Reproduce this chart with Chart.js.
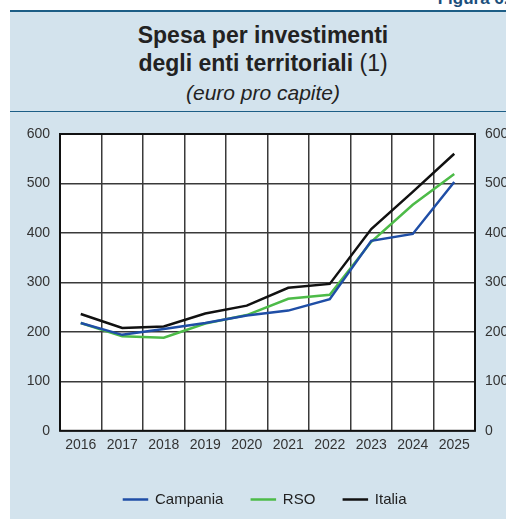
<!DOCTYPE html>
<html lang="it">
<head>
<meta charset="UTF-8">
<title>Spesa per investimenti degli enti territoriali</title>
<script src="https://cdn.jsdelivr.net/npm/chart.js"></script>
<style>
  html, body {
    margin: 0;
    padding: 0;
    width: 506px;
    height: 519px;
    overflow: hidden;
    background: #fff;
    font-family: "Liberation Sans", Arial, sans-serif;
  }
  .fig-label {
    position: absolute;
    right: -12px;
    top: -11px;
    font-weight: bold;
    font-size: 17px;
    color: #1b4f7c;
  }
  .panel {
    position: absolute;
    left: 10px;
    top: 10px;
    width: 510px;
    height: 520px;
    background: #d3e3ed;
    border-top: 2px solid #1d5e86;
  }
  .head {
    position: absolute;
    left: 0;
    top: 0;
    width: 506px;
    height: 99px;
    border-bottom: 1.5px solid #1d5e86;
    text-align: center;
    color: #222;
  }
  .head .t1 {
    position: absolute; left: 0; width: 100%; top: 10px;
    font-size: 23px; font-weight: bold;
  }
  .head .t2 {
    position: absolute; left: 0; width: 100%; top: 38px;
    font-size: 23px; font-weight: bold;
  }
  .head .t2 span { font-weight: normal; }
  .head .t3 {
    position: absolute; left: 0; width: 100%; top: 69px;
    font-size: 21px; font-style: italic;
  }
  .chart-box {
    position: absolute;
    left: 10px;
    top: 112px;
    width: 496px;
    height: 407px;
  }
</style>
</head>
<body>
  <div class="fig-label">Figura 6.1</div>
  <div class="panel">
    <div class="head">
      <div class="t1">Spesa per investimenti</div>
      <div class="t2">degli enti territoriali <span>(1)</span></div>
      <div class="t3">(euro pro capite)</div>
    </div>
  </div>
  <div class="chart-box"><canvas id="chart"></canvas></div>

<script>
  const years = ["2016", "2017", "2018", "2019", "2020", "2021", "2022", "2023", "2024", "2025"];
  const campania = [218, 194, 206, 218, 233, 243, 266, 384, 398, 503];
  const rso = [218, 191, 188, 217, 234, 267, 275, 382, 457, 519];
  const italia = [236, 208, 211, 237, 253, 289, 297, 408, 483, 560];

  const gridColor = "#3a3a3a";
  const tickFont = { family: "Liberation Sans", size: 14 };

  // white plotting area behind the grid
  const plotBg = {
    id: "plotBg",
    beforeDraw(chart) {
      const { ctx, chartArea: a } = chart;
      ctx.save();
      ctx.fillStyle = "#fff";
      ctx.fillRect(a.left, a.top, a.right - a.left, a.bottom - a.top);
      ctx.restore();
    }
  };

  // black frame round the plot
  const frame = {
    id: "frame",
    afterDatasetsDraw(chart) {
      const { ctx, chartArea: a } = chart;
      ctx.save();
      ctx.strokeStyle = "#111";
      ctx.lineWidth = 2;
      ctx.strokeRect(a.left, a.top, a.right - a.left, a.bottom - a.top);
      ctx.restore();
    }
  };

  // legend sits a little right of the canvas centre
  const legendShift = {
    id: "legendShift",
    afterLayout(chart) {
      if (chart.legend) {
        chart.legend.left += 7;
        chart.legend.right += 7;
      }
    }
  };

  function series(label, data, color) {
    return {
      label, data,
      borderColor: color,
      backgroundColor: color,
      borderWidth: 2.5,
      pointRadius: 0,
      tension: 0,
      fill: false
    };
  }

  new Chart(document.getElementById("chart"), {
    type: "line",
    data: {
      labels: years,
      datasets: [
        series("Campania", campania, "#1f4ea6"),
        series("RSO", rso, "#4dbb48"),
        series("Italia", italia, "#111111")
      ]
    },
    options: {
      responsive: true,
      maintainAspectRatio: false,
      animation: false,
      layout: { padding: { top: 22, bottom: 2, left: 0, right: 0 } },
      plugins: {
        title: { display: false },
        tooltip: { enabled: false },
        legend: {
          position: "bottom",
          title: { display: true, text: " ", font: { size: 2 }, padding: 1 },
          labels: {
            color: "#222",
            font: { family: "Liberation Sans", size: 15 },
            boxWidth: 24,
            boxHeight: 1,
            padding: 28,
            generateLabels(chart) {
              return chart.data.datasets.map((d, i) => ({
                text: d.label,
                fillStyle: d.borderColor,
                strokeStyle: d.borderColor,
                lineWidth: 1.5,
                datasetIndex: i,
                fontColor: "#222"
              }));
            }
          }
        }
      },
      scales: {
        x: {
          offset: true,
          grid: { offset: true, color: gridColor, lineWidth: 1.5, drawTicks: false },
          border: { display: false },
          ticks: { color: "#333", font: tickFont, padding: 6, maxRotation: 0 }
        },
        y: {
          position: "left",
          min: 0, max: 600,
          afterFit(scale) { scale.width = 50; },
          grid: { color: gridColor, lineWidth: 1.5, drawTicks: false },
          border: { display: false },
          ticks: { stepSize: 100, color: "#333", font: tickFont, padding: 10 }
        },
        y2: {
          position: "right",
          min: 0, max: 600,
          afterFit(scale) { scale.width = 31; },
          grid: { display: false, drawTicks: false },
          border: { display: false },
          ticks: { stepSize: 100, color: "#333", font: tickFont, padding: 10 }
        }
      }
    },
    plugins: [plotBg, frame, legendShift]
  });
</script>
</body>
</html>
